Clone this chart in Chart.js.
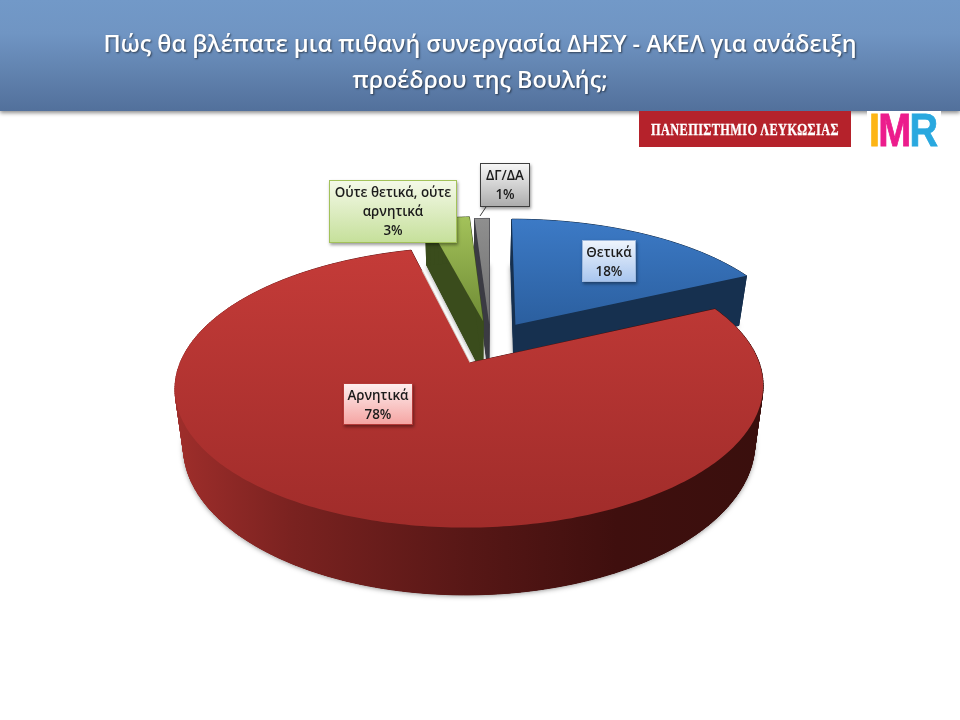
<!DOCTYPE html>
<html>
<head>
<meta charset="utf-8">
<style>
  html, body { margin: 0; padding: 0; background: #fff; }
  #page { position: relative; width: 960px; height: 720px; overflow: hidden; }
  #myChart { position: absolute; left: 0; top: 0; }
  #header {
    position: absolute; left: 0; top: 0; width: 960px; height: 111px;
    background: linear-gradient(#7299c8, #7095c3 30%, #52709b);
    box-shadow: 0 2px 4px rgba(0,0,0,.45);
    color: #fff; text-align: center;
    font: 600 23.4px/36px "Open Sans", sans-serif;
    text-shadow: 1px 1px 2px rgba(0,0,0,.55);
    box-sizing: border-box; padding-top: 25px;
  }
  #uni {
    position: absolute; left: 639px; top: 111px; width: 212px; height: 36px;
    background: #b5222b; color: #fff; white-space: nowrap;
    font: bold 16px/37px "Liberation Serif", serif; letter-spacing: .5px;
    -webkit-text-stroke: .3px;
  }
  #uni span { position: absolute; left: 50%; transform: translateX(-50%) scaleX(.77); }
  #imr {
    position: absolute; left: 867px; top: 111px; width: 74px; height: 36px; background: #fff;
    font: bold 46px/38px "Liberation Sans", sans-serif; letter-spacing: -2px;
    white-space: nowrap; overflow: hidden; -webkit-text-stroke: .8px;
  }
  #imr div { transform: scaleX(.86); transform-origin: 0 0; margin-left: 2px; }
  .box {
    position: absolute; box-sizing: border-box; text-align: center; color: #1b1b1b;
    font: 600 13.4px/19px "Open Sans", sans-serif;
    box-shadow: 1px 2px 3px rgba(0,0,0,.4); padding-top: 2px;
  }
</style>
</head>
<body>
<div id="page">
  <canvas id="myChart" width="960" height="720"></canvas>
  <div id="header">Πώς θα βλέπατε μια πιθανή συνεργασία ΔΗΣΥ - ΑΚΕΛ για ανάδειξη<br>προέδρου της Βουλής;</div>
  <div id="uni"><span>ΠΑΝΕΠΙΣΤΗΜΙΟ ΛΕΥΚΩΣΙΑΣ</span></div>
  <div id="imr"><div><span style="color:#fdb515">I</span><span style="color:#ec1c8c">M</span><span style="color:#29a8df">R</span></div></div>
</div>
<script src="https://cdn.jsdelivr.net/npm/chart.js@4"></script>
<script>
const categories = ['Θετικά', 'Αρνητικά', 'Ούτε θετικά, ούτε αρνητικά', 'ΔΓ/ΔΑ'];
const values = [18, 78, 3, 1];

// explode distance of each slice, in px on the flat pie
const explode = [56, 56, 57, 50];

// top face gradient, wall colour
const topColors = [['#3c7ac6', '#2b5f9f'], ['#c43b38', '#a02c2a'], ['#a3c25a', '#6f8c35'], ['#8f8f8f', '#6f6f6f']];
const wallColors = ['#16304f', null, '#3a4c1c', '#3b3b43'];

// perspective of the top and bottom discs
const topView = { cx: 490.5, cy: 342.6, a: 282, b: 129, q: 0.17 };
const bottomView = { cx: 490, cy: 397, a: 274, b: 138, q: 0.17 };

// left, top, width, height, colours of the label boxes
const boxStyles = [
    { l: 582, t: 240, w: 54, h: 42, bg: 'linear-gradient(#eef4fc,#a9c6ef)', bd: '#9db8dd' },
    { l: 343, t: 383, w: 70, h: 42, bg: 'linear-gradient(#fdeeee,#f5a5a3)', bd: '#b53a38' },
    { l: 329, t: 180, w: 128, h: 63, bg: 'linear-gradient(#f4f9e8,#c6e09b)', bd: '#a3c25a' },
    { l: 480, t: 163, w: 50, h: 44, bg: 'linear-gradient(#f6f6f6,#adadad)', bd: '#3f3f3f' },
];

const ctx = document.getElementById('myChart');
const page = document.getElementById('page');

categories.forEach((name, i) => {
    const s = boxStyles[i];
    const div = document.createElement('div');
    div.className = 'box';
    div.style.cssText = `left:${s.l}px;top:${s.t}px;width:${s.w}px;height:${s.h}px;background:${s.bg};border:1px solid ${s.bd}`;
    div.innerHTML = name + '<br>' + values[i] + '%';
    page.appendChild(div);
});

function project(view, u, v) {
    const den = 1 - view.q * v;
    return [view.cx + view.a * u / den, view.cy + view.b * v / den];
}

// outline of a slice on the unit disc, tip first then the rim
function sliceOutline(el) {
    const e = el.options.offset / el.outerRadius;
    const mid = (el.startAngle + el.endAngle) / 2;
    const du = Math.cos(mid) * e, dv = Math.sin(mid) * e;
    const steps = Math.max(4, Math.round((el.endAngle - el.startAngle) * 60));
    const pts = [[du, dv]];
    for (let k = 0; k <= steps; k++) {
        const t = el.startAngle + (el.endAngle - el.startAngle) * k / steps;
        pts.push([du + Math.cos(t), dv + Math.sin(t)]);
    }
    return pts;
}

function fillPoly(c, pts) {
    c.beginPath();
    pts.forEach((p, i) => i ? c.lineTo(p[0], p[1]) : c.moveTo(p[0], p[1]));
    c.closePath();
    c.fill();
}

function drawSlice(c, el, i) {
    const outline = sliceOutline(el);
    const top = outline.map(p => project(topView, p[0], p[1]));
    const bottom = outline.map(p => project(bottomView, p[0], p[1]));

    let wall = wallColors[i];
    if (!wall) {
        wall = c.createLinearGradient(175, 0, 763, 0);
        wall.addColorStop(0, '#9f2e2b');
        wall.addColorStop(0.2, '#7a2220');
        wall.addColorStop(0.5, '#571716');
        wall.addColorStop(0.75, '#3f0f0e');
        wall.addColorStop(1, '#3a0f0d');
    }

    // soft shadow of the bottom disc
    c.save();
    c.shadowColor = 'rgba(0,0,0,.45)';
    c.shadowBlur = 5;
    c.shadowOffsetY = 1;
    c.fillStyle = typeof wall === 'string' ? wall : '#571716';
    fillPoly(c, bottom);
    c.restore();

    c.fillStyle = wall;
    c.strokeStyle = wall;
    c.lineWidth = 1;
    fillPoly(c, bottom);
    for (let k = 0; k < top.length; k++) {
        const n = (k + 1) % top.length;
        const quad = [top[k], top[n], bottom[n], bottom[k]];
        fillPoly(c, quad);
        c.stroke();
    }

    // pale edge along the cut of the big slice
    if (i === 1) {
        const tip = top[0], rim = top[top.length - 1];
        c.strokeStyle = '#d8d0c8';
        c.lineWidth = 2;
        c.beginPath();
        c.moveTo(tip[0], tip[1]);
        c.lineTo(tip[0] + (rim[0] - tip[0]) * 0.82, tip[1] + (rim[1] - tip[1]) * 0.82);
        c.stroke();
    }

    const ys = top.map(p => p[1]);
    const grad = c.createLinearGradient(0, Math.min(...ys), 0, Math.max(...ys));
    grad.addColorStop(0, topColors[i][0]);
    grad.addColorStop(1, topColors[i][1]);
    c.fillStyle = grad;
    fillPoly(c, top);
}

const pie3d = {
    id: 'pie3d',
    beforeDatasetDraw() {
        return false;
    },
    afterDatasetsDraw(chart) {
        const c = chart.ctx;
        const arcs = chart.getDatasetMeta(0).data;
        // back slices first, the big one lies in front
        [3, 2, 0, 1].forEach(i => drawSlice(c, arcs[i], i));

        // leader line of the smallest slice
        c.strokeStyle = '#3f3f3f';
        c.lineWidth = 1;
        c.beginPath();
        c.moveTo(486, 207);
        c.lineTo(480, 216);
        c.stroke();
    }
};

new Chart(ctx, {
    type: 'pie',
    data: {
        labels: categories,
        datasets: [{
            data: values,
            offset: explode,
            borderWidth: 0,
            backgroundColor: topColors.map(t => t[0])
        }]
    },
    options: {
        responsive: false,
        animation: false,
        plugins: {
            legend: { display: false },
            tooltip: { enabled: false }
        }
    },
    plugins: [pie3d]
});
</script>
</body>
</html>
